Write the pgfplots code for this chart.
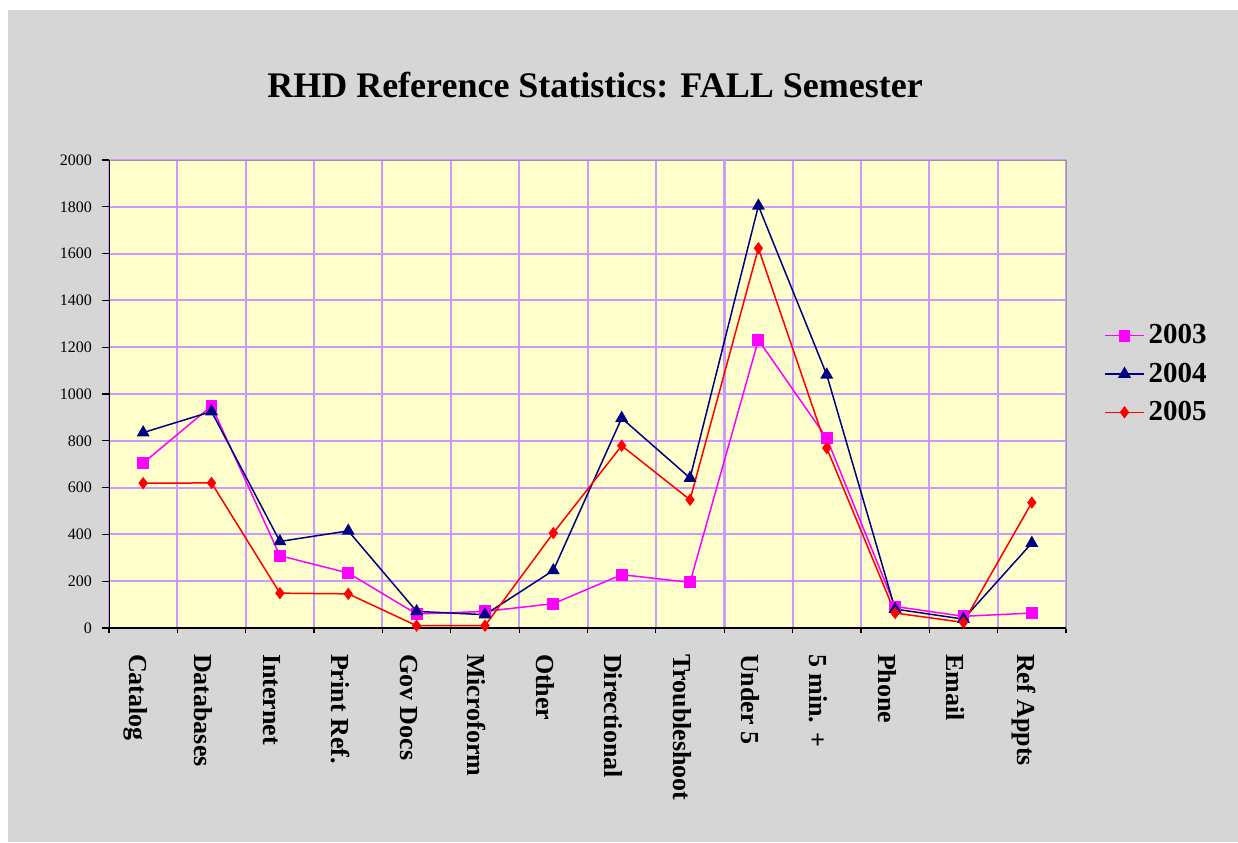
\documentclass[border=0pt]{standalone}
\usepackage{fontspec}
\setmainfont{Liberation Serif}
\usepackage{pgfplots}
\pgfplotsset{compat=1.18}
\definecolor{bggray}{RGB}{214,214,214}
\definecolor{plotbg}{RGB}{255,255,204}
\definecolor{gridc}{RGB}{204,153,255}
\definecolor{navy}{RGB}{0,0,128}
\definecolor{mag}{RGB}{255,0,255}
\pgfplotstableread{
x y
0.5 705
1.5 949
2.5 309
3.5 235
4.5 60
5.5 71
6.5 104
7.5 228
8.5 195
9.5 1231
10.5 811
11.5 92
12.5 50
13.5 64
}\dataA
\pgfplotstableread{
x y
0.5 835
1.5 925
2.5 370
3.5 415
4.5 71
5.5 57
6.5 246
7.5 897
8.5 641
9.5 1804
10.5 1082
11.5 81
12.5 38
13.5 363
}\dataB
\pgfplotstableread{
x y
0.5 619
1.5 620
2.5 149
3.5 146
4.5 10
5.5 10
6.5 406
7.5 779
8.5 548
9.5 1623
10.5 769
11.5 64
12.5 24
13.5 536
}\dataC
\begin{document}
\begin{tikzpicture}
\fill[white] (0,0) rectangle (619pt,-421pt);
\fill[bggray] (4pt,-5pt) rectangle (619pt,-421pt);
\useasboundingbox (0,0) rectangle (619pt,-421pt);
\node[font=\fontsize{18}{20}\selectfont\bfseries] at (297.5pt,-42.5pt) {RHD Reference Statistics: FALL Semester};
\begin{axis}[
  at={(54.5pt,-80pt)}, anchor=north west,
  scale only axis, width=478.5pt, height=234pt,
  xmin=0, xmax=14, ymin=0, ymax=2000,
  axis background/.style={fill=plotbg},
  axis line style={gray!80},
  xtick={0.5,1.5,...,13.5},
  xticklabels={Catalog,Databases,Internet,Print Ref.,Gov Docs,Microform,Other,Directional,Troubleshoot,Under 5,5 min. +,Phone,Email,Ref Appts},
  major x tick style={draw=none},
  minor xtick={0,1,...,14},
  xminorgrids,
  ytick={0,200,...,2000}, ymajorgrids,
  grid style={gridc, line width=1pt},
  minor grid style={gridc, line width=1pt},
  tick align=outside,
  xtick pos=bottom, ytick pos=left,
  major tick length=3.5pt, minor tick length=2.5pt,
  tick style={black, line width=0.6pt},
  minor tick style={black, line width=0.6pt},
  xticklabel style={xshift=-4pt, yshift=-6pt, rotate=-90, anchor=west, font=\fontsize{13}{15}\selectfont\bfseries},
  yticklabel style={xshift=-1.5pt, font=\fontsize{8}{9}\selectfont},
  /pgf/number format/assume math mode=true,
  /pgf/number format/1000 sep={},
  legend image code/.code={\draw[mark repeat=2,mark phase=2,#1] plot coordinates {(0cm,0cm) (0.34cm,0cm) (0.68cm,0cm)};},
  legend style={at={(1,0.5427)}, anchor=west, xshift=19pt, draw=none, fill=none,
    font=\fontsize{14.5}{16}\selectfont\bfseries, row sep=4pt, inner sep=0pt, cells={anchor=west}},
]
\draw[gridc, line width=1.6pt] (axis cs:9,0) -- (axis cs:9,2000);
\addplot[mag, line width=0.75pt, mark=square*, mark size=2.6pt] table {\dataA};
\addlegendentry{2003}
\addplot[navy, line width=0.75pt, mark=triangle*, mark size=3pt] table {\dataB};
\addlegendentry{2004}
\addplot[red, line width=0.75pt, mark=diamond*, mark size=2.5pt] table {\dataC};
\addlegendentry{2005}
\draw[black, line width=0.6pt] (rel axis cs:0,1) -- (rel axis cs:0,0) -- (rel axis cs:1,0);
\end{axis}
\end{tikzpicture}
\end{document}
